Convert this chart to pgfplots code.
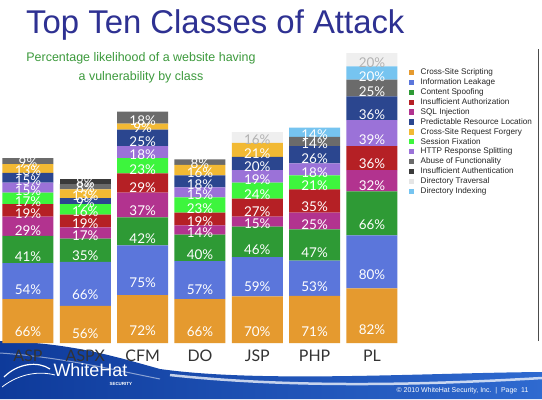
\documentclass[border=0pt]{standalone}
\usepackage{pgfplots}
\pgfplotsset{compat=1.18}
\usepackage{pgfplotstable}
\usepackage{fontspec}
\setmainfont{Liberation Sans}
\newfontfamily\lato{Lato}
\definecolor{cXSS}{HTML}{E59A2F}
\definecolor{cINFO}{HTML}{5B76DB}
\definecolor{cSPOOF}{HTML}{2E9A35}
\definecolor{cIAUTH}{HTML}{B52025}
\definecolor{cSQL}{HTML}{B2338F}
\definecolor{cPRED}{HTML}{2B468F}
\definecolor{cCSRF}{HTML}{F2B933}
\definecolor{cSESS}{HTML}{3DF53D}
\definecolor{cHTTP}{HTML}{9B72D8}
\definecolor{cABUSE}{HTML}{6B6B6B}
\definecolor{cIAUTHN}{HTML}{3A3A3A}
\definecolor{cTRAV}{HTML}{EFEFEF}
\definecolor{cIDX}{HTML}{76C4F0}
\definecolor{cTitle}{HTML}{2E3192}
\definecolor{cSub}{HTML}{3C9A3C}
\definecolor{cBlueA}{HTML}{0E3A9A}
\definecolor{cBlueB}{HTML}{2F6AD0}
\pgfplotstableread{
x xss info spoof sql iauth sess http pred csrf abuse iauthn idx trav
0 66 54 41 29 19 17 15 15 13 9 0 0 0
1 56 66 35 17 19 16 0 9 13 8 8 0 0
2 72 75 42 37 29 23 18 25 9 18 0 0 0
3 66 57 40 14 19 23 15 18 16 8 0 0 0
4 70 59 46 15 27 24 19 20 21 0 0 0 16
5 71 53 47 25 35 21 18 26 0 14 0 14 0
6 82 80 66 32 36 0 39 36 0 25 0 20 20
}\data
\pgfplotsset{sq/.style={legend image code/.code={\fill[#1, draw=none] (0bp,-2.65bp) rectangle (5.3bp,2.65bp);\path[draw=none, fill=none] (0bp,0bp) -- (11.5bp,0bp);}}}
\begin{document}
\begin{tikzpicture}[x=1bp,y=1bp]
\useasboundingbox (0,0) rectangle (542,399);
\fill[white] (0,0) rectangle (542,399);
% footer swoosh
\shade[left color=cBlueA, right color=cBlueB] (0,0) -- (0,58) .. controls (70,56) and (110,44) .. (160,30) .. controls (260,16) and (420,26) .. (542,27) -- (542,0) -- cycle;
\draw[white, line width=2.5bp, opacity=0.75] (170,24) .. controls (300,10) and (440,15) .. (542,21);
\draw[white, line width=1bp, opacity=0.5] (0,46) .. controls (60,42) and (110,30) .. (160,20);
\draw[white, line width=1.2bp] (4,22) .. controls (18,36) and (38,38) .. (50,30);
\draw[white, line width=0.8bp] (2,12) .. controls (20,26) and (40,28) .. (55,24);
\node[white, anchor=base west, font=\fontsize{18}{18}\selectfont] at (50,23) {WhiteHat};
\node[white, anchor=base west, font=\fontsize{4.5}{4.5}\selectfont\bfseries] at (106,14) {SECURITY};
\node[white, anchor=base east, font=\fontsize{7}{7}\selectfont] at (532,7) {© 2010 WhiteHat Security, Inc.\ \ |\ \ Page\ \ 11};
\draw[black!70, line width=1bp] (538,58) -- (538,350);
% titles
\node[cTitle, anchor=base west, inner sep=0pt, font=\fontsize{33}{33}\selectfont] at (26,366) {Top Ten Classes of Attack};
\node[cSub, inner sep=0pt, font=\fontsize{12.5}{12.5}\selectfont] at (141,341) {Percentage likelihood of a website having};
\node[cSub, inner sep=0pt, font=\fontsize{12.5}{12.5}\selectfont] at (141,322) {a vulnerability by class};
\begin{axis}[
  at={(2.2bp,56bp)}, anchor=south west,
  scale only axis, width=398.4bp, height=299.25bp,
  xmin=-0.45, xmax=6.5, ymin=0, ymax=450,
  enlargelimits=false, clip=false,
  ybar stacked, bar width=51bp,
  hide y axis,
  axis x line*=bottom, x axis line style={draw=none},
  xtick={0,...,6}, xticklabels={ASP,ASPX,CFM,DO,JSP,PHP,PL},
  xtick style={draw=none},
  xticklabel style={anchor=center, yshift=-13bp, text=black!80, font=\lato\fontsize{16}{16}\selectfont},
  visualization depends on=rawy\as\rawy,
  nodes near coords={\pgfmathtruncatemacro\v{\rawy}\ifnum\v>0 \v\%\fi},
  every node near coord/.append style={anchor=center, yshift={-0.16625bp*\rawy}, text=white, inner sep=0pt, font=\lato\fontsize{13.5}{13.5}\selectfont},
  legend style={at={(1.021,0.917)}, anchor=north west, draw=none, fill=none, inner sep=0pt, row sep=2.4bp, font=\fontsize{8.2}{8.2}\selectfont, text=black!85, nodes={inner sep=0pt, text height=6bp, text depth=1.5bp, anchor=west}},
  legend cell align=left,
]
\addplot[forget plot, fill=cXSS, draw=none] table[x=x,y=xss]{\data};
\addplot[forget plot, fill=cINFO, draw=none] table[x=x,y=info]{\data};
\addplot[forget plot, fill=cSPOOF, draw=none] table[x=x,y=spoof]{\data};
\addplot[forget plot, fill=cSQL, draw=none] table[x=x,y=sql]{\data};
\addplot[forget plot, fill=cIAUTH, draw=none] table[x=x,y=iauth]{\data};
\addplot[forget plot, fill=cSESS, draw=none] table[x=x,y=sess]{\data};
\addplot[forget plot, fill=cHTTP, draw=none] table[x=x,y=http]{\data};
\addplot[forget plot, fill=cPRED, draw=none] table[x=x,y=pred]{\data};
\addplot[forget plot, fill=cCSRF, draw=none] table[x=x,y=csrf]{\data};
\addplot[forget plot, fill=cABUSE, draw=none] table[x=x,y=abuse]{\data};
\addplot[forget plot, fill=cIAUTHN, draw=none] table[x=x,y=iauthn]{\data};
\addplot[forget plot, fill=cIDX, draw=none] table[x=x,y=idx]{\data};
\addplot[forget plot, fill=cTRAV, draw=none, every node near coord/.append style={text=black!30}] table[x=x,y=trav]{\data};
\addlegendimage{sq=cXSS}\addlegendentry{Cross-Site Scripting}
\addlegendimage{sq=cINFO}\addlegendentry{Information Leakage}
\addlegendimage{sq=cSPOOF}\addlegendentry{Content Spoofing}
\addlegendimage{sq=cIAUTH}\addlegendentry{Insufficient Authorization}
\addlegendimage{sq=cSQL}\addlegendentry{SQL Injection}
\addlegendimage{sq=cPRED}\addlegendentry{Predictable Resource Location}
\addlegendimage{sq=cCSRF}\addlegendentry{Cross-Site Request Forgery}
\addlegendimage{sq=cSESS}\addlegendentry{Session Fixation}
\addlegendimage{sq=cHTTP}\addlegendentry{HTTP Response Splitting}
\addlegendimage{sq=cABUSE}\addlegendentry{Abuse of Functionality}
\addlegendimage{sq=cIAUTHN}\addlegendentry{Insufficient Authentication}
\addlegendimage{sq=black!10}\addlegendentry{Directory Traversal}
\addlegendimage{sq=cIDX}\addlegendentry{Directory Indexing}
\end{axis}
\end{tikzpicture}
\end{document}
